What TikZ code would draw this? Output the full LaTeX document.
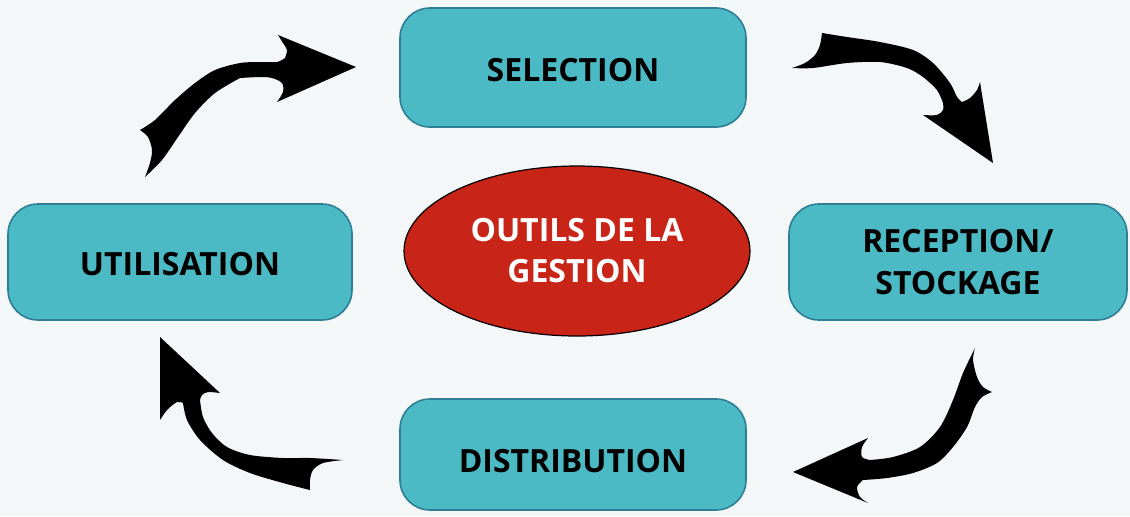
\documentclass[tikz,border=0pt]{standalone}
\usepackage{fontspec}
\setmainfont{Open Sans}
\usetikzlibrary{shapes.geometric}
\definecolor{pagebg}{HTML}{F3F7F8}
\definecolor{boxfill}{HTML}{4BBAC4}
\definecolor{boxedge}{HTML}{2E7F96}
\definecolor{hubred}{HTML}{C92418}
\begin{document}
\begin{tikzpicture}[x=0.5pt,y=-0.5pt,
  stage/.style={draw=boxedge, line width=0.8pt, fill=boxfill, rounded corners=15pt,
    align=center, text=black, inner sep=0pt,
    font=\fontsize{16}{21}\selectfont\bfseries},
  hub/.style={ellipse, draw=black, line width=0.6pt, fill=hubred, inner sep=0pt,
    minimum width=173pt, minimum height=85pt, align=center, text=white,
    font=\fontsize{16}{20.5}\selectfont\bfseries},
  swoosh/.style={fill=black}]
% page
\fill[pagebg] (0,0) rectangle (1130,516);
\useasboundingbox (0,0) rectangle (1130,516);

% stages of the cycle
\node[stage, minimum width=173pt, minimum height=59.5pt, text height=14.4pt, text depth=0pt] (sel) at (573,67.5) {SELECTION};
\node[stage, minimum width=169pt, minimum height=58pt] (rec) at (958,262) {RECEPTION/\\STOCKAGE};
\node[stage, minimum width=173pt, minimum height=55.5pt, text height=18.4pt, text depth=0pt] (dis) at (573,454.5) {DISTRIBUTION};
\node[stage, minimum width=172pt, minimum height=58pt, text height=13.4pt, text depth=0pt] (uti) at (180,262) {UTILISATION};
% centre
\node[hub] (hub) at (577,251) {OUTILS DE LA\\GESTION};

% utilisation -> selection
\fill[swoosh] (145,177)
  -- plot[smooth] coordinates {(145,177)(150,163)(152,150)(148,137)(140,130)}
  -- plot[smooth] coordinates {(140,130)(155,120)(175,100)(195,83)(215,70)(240,63)(260,62)(277,62)(285,58)}
  -- plot[smooth] coordinates {(285,58)(287,50)(283,43)(278,35)}
  -- (356,67) -- (277,102)
  -- plot[smooth] coordinates {(277,102)(283,92)(282,83)(272,78)(260,77)(240,78)}
  -- plot[smooth] coordinates {(240,78)(215,93)(195,113)(178,137)(162,160)(145,177)}
  -- cycle;

% selection -> reception
\fill[swoosh] (792,68)
  -- plot[smooth] coordinates {(792,68)(805,63)(815,55)(820,45)(822,33)}
  -- plot[smooth] coordinates {(822,33)(847,37)(880,42)(913,50)(933,63)(950,83)(957,97)(962,102)}
  -- plot[smooth] coordinates {(962,102)(970,98)(977,90)(980,82)}
  -- (993,163) -- (923,115)
  -- plot[smooth] coordinates {(923,115)(937,115)(943,110)(943,103)}
  -- plot[smooth] coordinates {(943,103)(937,90)(923,77)(907,68)(880,62)(847,63)(813,68)(792,68)}
  -- cycle;

% reception -> distribution
\fill[swoosh] (975,348)
  -- plot[smooth] coordinates {(975,348)(973,360)(977,377)(983,387)(992,392)}
  -- plot[smooth] coordinates {(992,392)(982,397)(975,407)(967,427)(953,447)(937,463)(913,473)(887,478)(863,480)}
  -- plot[smooth] coordinates {(863,480)(857,487)(860,497)(868,503)}
  -- (793,472) -- (868,438)
  -- plot[smooth] coordinates {(868,438)(862,447)(862,457)(870,460)}
  -- plot[smooth] coordinates {(870,460)(893,457)(920,447)(940,427)(953,400)(963,373)(975,348)}
  -- cycle;

% distribution -> utilisation
\fill[swoosh] (160,337) -- (220,393)
  -- plot[smooth] coordinates {(220,393)(208,392)(202,395)(200,400)}
  -- plot[smooth] coordinates {(200,400)(203,417)(212,433)(227,447)(250,455)(283,458)(310,458)(343,460)}
  -- plot[smooth] coordinates {(343,460)(323,463)(313,470)(310,480)(310,490)}
  -- plot[smooth] coordinates {(310,490)(283,483)(250,473)(223,460)(200,440)(187,420)(183,403)}
  -- plot[smooth] coordinates {(183,403)(177,402)(167,410)(160,420)}
  -- cycle;
\end{tikzpicture}
\end{document}
